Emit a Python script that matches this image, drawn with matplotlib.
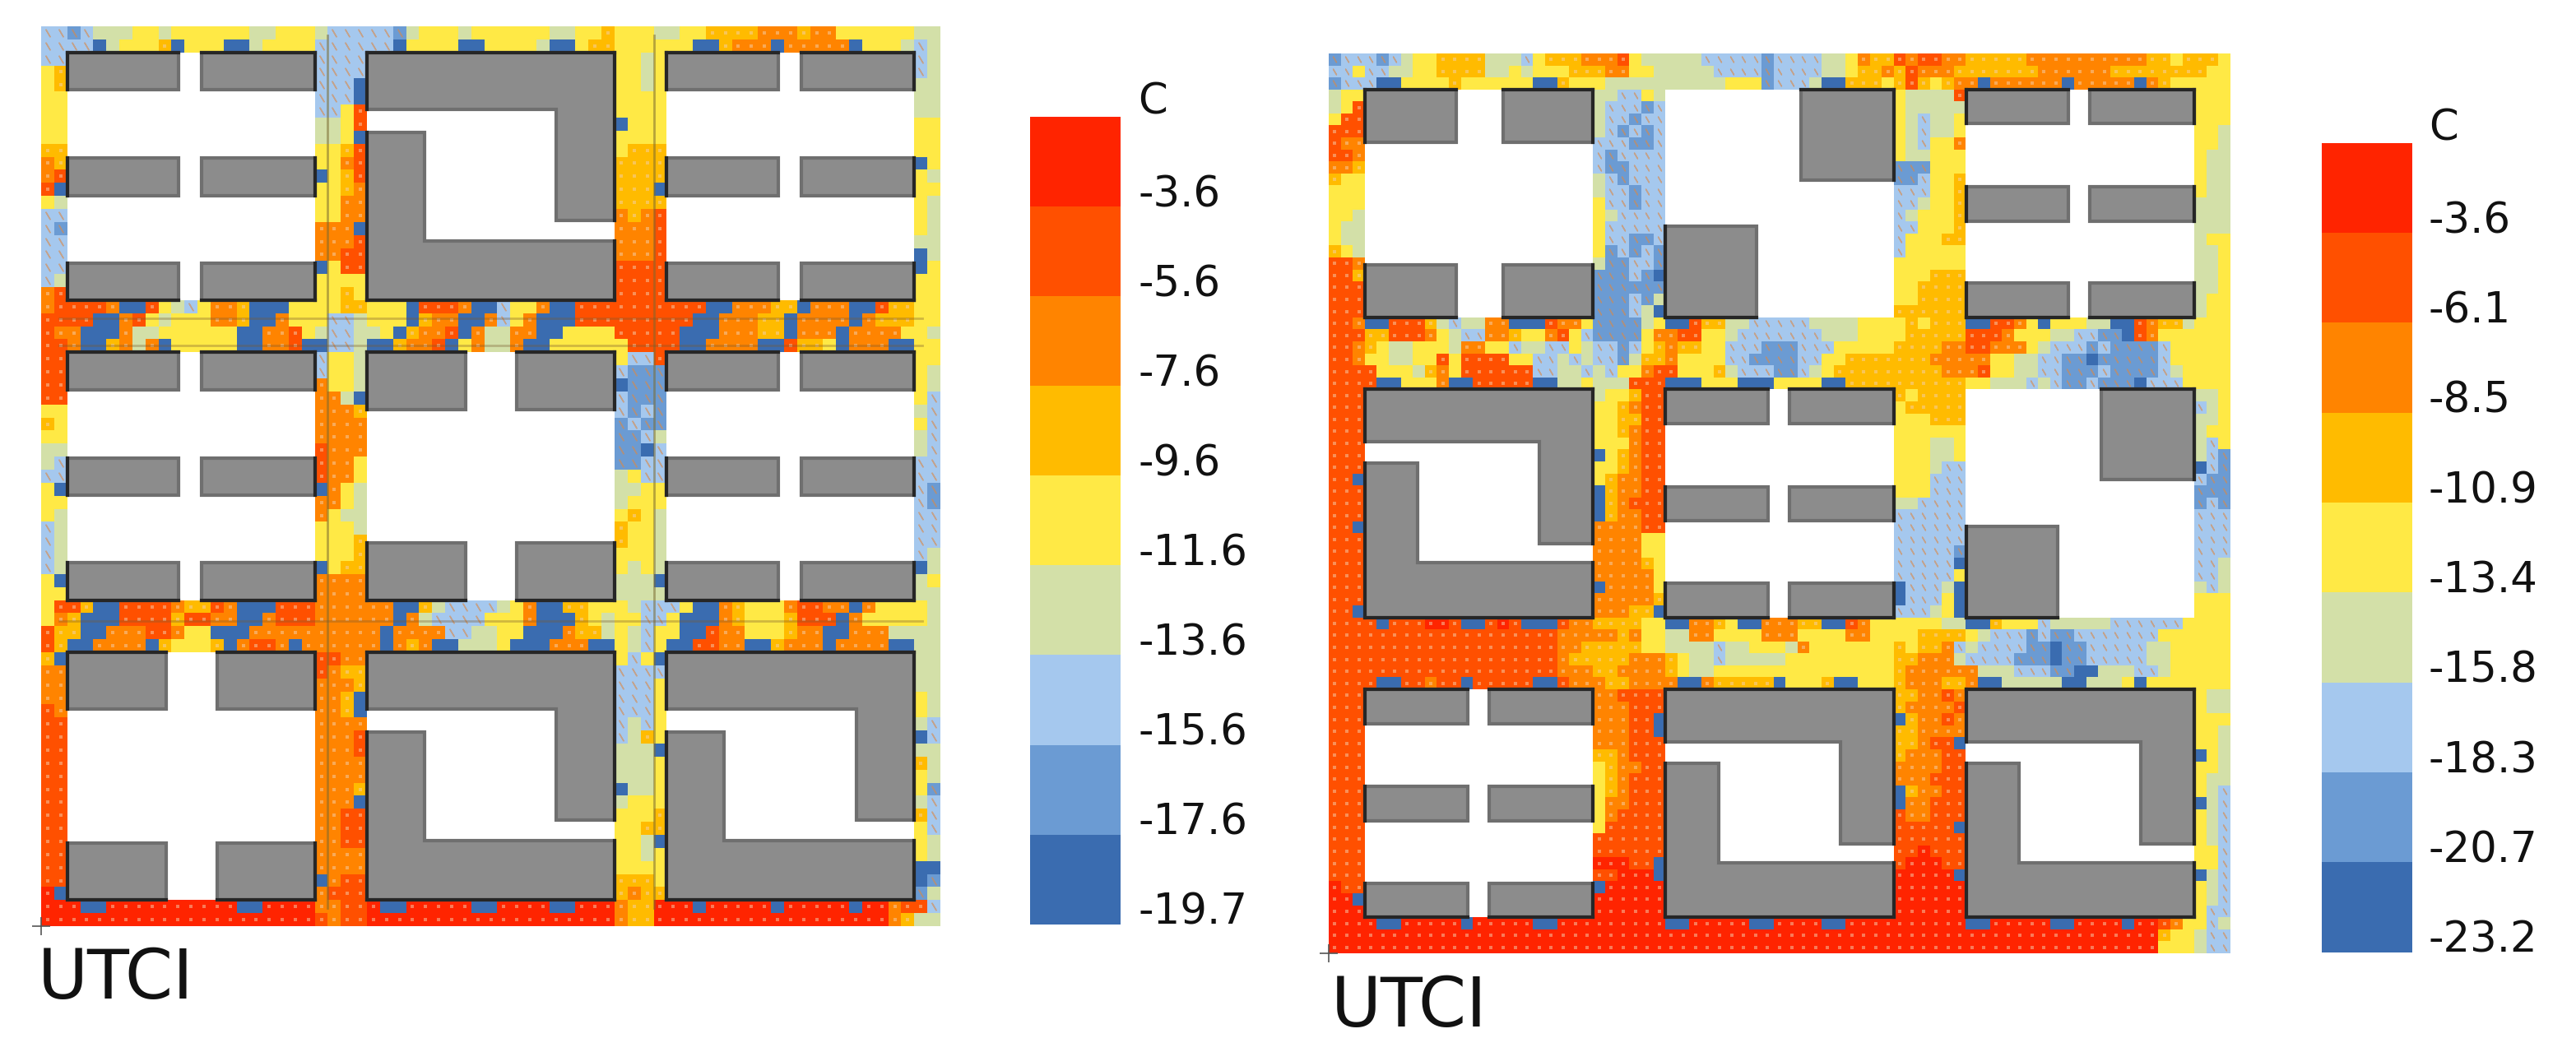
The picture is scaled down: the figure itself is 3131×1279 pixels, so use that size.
#! UTCI maps of two block layouts with stepped legends.

import numpy as np
import matplotlib
matplotlib.use('Agg')
import matplotlib.pyplot as plt
from matplotlib.colors import ListedColormap, BoundaryNorm
from matplotlib.patches import Polygon

W, H = 3131, 1279

band_colors = ['#3A6CB0', '#6B9BD3', '#A5C8EE', '#D3E0A8', '#FFE945',
               '#FFBB00', '#FF8400', '#FF5000', '#FF2400']
labels_a = ['-19.7', '-17.6', '-15.6', '-13.6', '-11.6', '-9.6', '-7.6', '-5.6', '-3.6']
labels_b = ['-23.2', '-20.7', '-18.3', '-15.8', '-13.4', '-10.9', '-8.5', '-6.1', '-3.6']

# Class of each cell, 0 = coldest band, 8 = warmest band.
# Left map: streets running across the whole map.
a_top = [
    "221233344344444433444 322222 13444344444433445 4443344 555566656644444433",
    "222203444504440034444 222222 04444004444300455 4444440 056660666660444323",
]
a_street1 = [
    "677776007432466500044 445544 40777600244600777 7777777 006665506660075544",
    "777700674344466500644 422344 40566006246000777 7777770 066655066660655544",
    "766000633444444006674 322334 05667063366004444 7777700 066655066606666443",
    "776005636044444006670 022300 56670463360044444 4777700 666600755406660044",
]
a_street2 = [
    "477500777765576000777 666666 00532222346005544 4322240 065444677660644443",
    "465000777757766006777 666666 06322224446000543 4422400 065444577706444443",
    "755006667764400066666 666660 66662233440006553 4324400 766444566006663333",
    "750066660544450677606 666660 65600333400066600 4324007 766005666066660033",
]
a_bottom = [
    "888008888888888008888 667780 08888800888800888 6558880 888880888880886772",
    "888888888888888888888 767788 88888888888888888 6558888 888888888888886533",
]
# Left map: margins and side streets beside each row of blocks.
a_side1 = [
    "22 2222 4434 23", "45 2222 4434 23", "45 2220 4434 33", "44 2220 4444 33",
    "44 2247 4444 33", "44 3347 0444 44", "44 3340 4444 44", "55 4457 4555 44",
    "65 4467 5555 04", "67 0457 5555 43", "70 4456 5550 44", "43 4466 5555 43",
    "22 4466 6567 43", "21 6660 6667 43", "22 6667 6667 33", "22 6677 6667 03",
    "22 0477 7777 04", "23 4444 7777 44", "67 4454 7777 44",
]
a_side2 = [
    "77 2443 4227 44", "77 2443 2111 43", "77 6443 0111 43", "77 6630 2111 42",
    "44 6665 2121 32", "54 6666 1211 42", "44 6666 1123 32", "33 7666 1102 32",
    "32 7664 1122 22", "22 7664 3422 22", "40 0643 3344 21", "44 6643 3444 21",
    "43 6433 4543 22", "23 4443 5443 22", "23 4445 5443 22", "23 4445 4443 23",
    "23 0455 4343 03", "40 6666 3330 34", "44 6666 3333 33",
]
a_side3 = [
    "50 7766 4240 33", "66 7655 2222 33", "66 6665 2224 33", "66 6650 2224 43",
    "76 6650 2224 43", "77 6666 2324 32", "77 6667 2354 02", "77 6667 3330 33",
    "77 6666 3334 53", "77 6666 3334 43", "77 6665 0334 41", "77 6660 3444 32",
    "77 6677 4445 52", "77 6677 4455 42", "77 6677 4430 43", "77 6666 4434 43",
    "77 6666 4444 00", "77 0677 5554 01", "80 6777 5655 13",
]

# Right map, same arrangement on a finer grid.
b_top = [
    "1222123 44 5555 3332 4555 6667 43 333322222 1222 2334 655 767766 55555666 666666655 45554",
    "2242233 44 5555 3343 4445 5566 44 333332222 1222 2334 556 576665 55555566 666655555 55544",
    "122 2004 444544 4444 00 54443333 333333444 1 2223 00 5554 575456 6 0 666666 0 66666 0 65 44444",
]
b_street1 = [
    "776 00 777 5 3233 66 000 76 6 4 1111 34 00 7 55 33222223333 4444 54555 00 776 4 0 4 4433 00 76 55 3 444",
    "777 55 777 6 4322 665 44 67 4 21 111 46 677 44 32222222333 444455555 777 6 4 4433 22 110 7 6 444444",
    "77654 3344 43 6 644 23322 43 2212 456 55 44 222111222 44444555566 77666 4 322 212111 1 2 44444",
    "7764 43344 74 777 744 223 23 2213 556 4444 22111122 445555555666 66 443 322 11011111 2 44444",
    "7777 44435 6 4 777777 223 32 32 44 677 4445 32221123 455555555566 67 443 322 1112111 1 23 4444",
    "7777 00 4446 00 77777 00 334 333 777 000 444 000 4444 00 5555555555 443332 32112111 0 222 4444",
]
b_street2 = [
    "7777 0 777887 00 787 000 7665555 44 00 6654 00 66655 00 76 44444433 00 5444 233333222222 4444",
    "7777777777777777777 6666656 4433 66 4444 666 4444 66 444455 55 432 2212 112222 222 444444",
    "7777777777777777777 6655555 44333 32334443 6 44444445 4556 232222 11011 2222233 44444",
    "7777777777777777777 655555666 5433233333 444444444 55666 32222 111011 2222233 44444",
    "7777777777777777777 666556666 5433444444 444444444 5666666 3332221 100 33322344 444",
    "7777 00 77677 0 77777 00 7666556666 00 655555 0 4445 00 444 5666556 00 33333 00 3334 0 4444444",
]
b_bottom = [
    "8888 00 88888 0 88888 00 888888888 00 88888 00 8888 00 8888888888 00 88888 00 8888 0 88 764423",
    "888888888888888888888888888888888888888888888888888888888888888888888 544322",
    "888888888888888888888888888888888888888888888888888888888888888888888 444322",
]
b_side1 = [
    "344 332243 433337 444", "347 322212 433333 444", "477 322122 432334 444",
    "777 321212 432334 443", "766 222112 432446 443", "776 212222 433444 433",
    "665 211222 111444 433", "544 321222 112445 433", "444 322122 222445 433",
    "444 422122 223445 333", "443 432222 234445 333", "433 422222 224445 333",
    "433 422112 244455 344", "543 412121 244444 334", "776 311221 444444 334",
    "775 111210 444555 334", "777 111111 445555 334", "777 111213 445555 344",
    "777 111230 555555 344",
]
b_side2 = [
    "777 344577 545555 334", "777 445677 455555 234", "777 445577 444555 334",
    "777 445677 444444 344", "777 444677 444334 324", "777 045677 444334 321",
    "777 445677 444322 021", "770 456677 444222 211", "777 056677 444222 111",
    "777 056777 332222 121", "777 056677 222222 222", "770 666677 222222 222",
    "777 666644 222222 222", "777 666644 222221 222", "777 666654 222220 223",
    "777 666664 222224 223", "777 066664 022230 323", "777 666665 022240 444",
    "770 666550 222340 444",
]
b_side3 = [
    "777 667777 556676 433", "777 666777 566667 433", "777 666770 056676 444",
    "777 666770 556666 443", "777 666777 556770 443", "777 556777 566677 043",
    "777 456677 666677 443", "777 456777 666777 433", "777 456777 056677 432",
    "777 466777 066777 032", "777 467777 766777 432", "777 477777 777770 432",
    "777 777777 777777 432", "777 777777 778777 442", "777 888770 788877 442",
    "777 778880 888880 032", "877 088888 888888 432", "880 888888 888888 432",
    "888 888888 888888 422",
]

# Building footprints as fractions of one block.
bars = [[(0, 0), (.45, 0), (.45, .15), (0, .15)], [(.543, 0), (1, 0), (1, .15), (.543, .15)],
        [(0, .427), (.45, .427), (.45, .577), (0, .577)], [(.543, .427), (1, .427), (1, .577), (.543, .577)],
        [(0, .85), (.45, .85), (.45, 1), (0, 1)], [(.543, .85), (1, .85), (1, 1), (.543, 1)]]
cross = [[(0, 0), (.4, 0), (.4, .23), (0, .23)], [(.605, 0), (1, 0), (1, .23), (.605, .23)],
         [(0, .77), (.4, .77), (.4, 1), (0, 1)], [(.605, .77), (1, .77), (1, 1), (.605, 1)]]
courtyard = [[(0, 0), (1, 0), (1, .677), (.765, .677), (.765, .23), (0, .23)],
             [(0, .323), (.232, .323), (.232, .76), (1, .76), (1, 1), (0, 1)]]
squares = [[(.592, 0), (1, 0), (1, .397), (.592, .397)], [(0, .6), (.4, .6), (.4, 1), (0, 1)]]

a_layout = [[bars, courtyard, bars], [bars, cross, bars], [cross, courtyard, courtyard]]
b_layout = [[cross, squares, bars], [courtyard, bars, squares], [bars, courtyard, courtyard]]


def clean(row, n):
    row = row.replace(' ', '')
    return row[:n].ljust(n, row[-1])


# Stitch the strips into a full grid, blocks left empty.
def build_grid(top, street1, street2, bottom, sides, margin, street):
    n = 2 * margin + 3 * 19 + 2 * street
    rows = []
    m = 2 * margin + 2 * street
    strips = [top, sides[0], street1, sides[1], street2, sides[2], bottom]
    for i, strip in enumerate(strips):
        for row in strip:
            if i % 2 == 0:
                rows.append([int(c) for c in clean(row, n)])
            else:
                s = [int(c) for c in clean(row, m)]
                nan = [np.nan] * 19
                rows.append(s[:margin] + nan + s[margin:margin + street] + nan
                            + s[margin + street:margin + 2 * street] + nan + s[-margin:])
    return np.array(rows, dtype=float)


def px_axes(x0, y0, x1, y1):
    return fig.add_axes([x0 / W, 1 - y1 / H, (x1 - x0) / W, (y1 - y0) / H])


def draw_map(box, grid, layout, margin, street, mark_size):
    ax = px_axes(*box)
    n = grid.shape[0]
    ax.imshow(grid, cmap=cmap, norm=norm, extent=(0, n, n, 0), aspect='auto', interpolation='nearest')

    # Wind marks on the cells.
    ys, xs = np.nonzero(grid >= 5)
    ax.scatter(xs + .5, ys + .5, s=mark_size, marker='s', color='#F2D0B0', alpha=.5, linewidths=0)
    ys, xs = np.nonzero((grid >= 1) & (grid <= 2))
    ax.scatter(xs + .5, ys + .5, s=mark_size * 5, marker=(2, 2, 30), color='#D98A4A', alpha=.6, linewidths=1.1)

    for r, line in enumerate(layout):
        for c, block in enumerate(line):
            bx = margin + c * (19 + street)
            by = margin + r * (19 + street)
            for shape in block:
                pts = [(bx + 19 * px, by + 19 * py) for px, py in shape]
                ax.add_patch(Polygon(pts, closed=True, facecolor='#8C8C8C', edgecolor='#6F6F6F', linewidth=3, zorder=3))
                # Edges on the block outline are darker.
                for (p, q), (u, v) in zip(zip(shape, shape[1:] + shape[:1]), zip(pts, pts[1:] + pts[:1])):
                    on_edge = (p[0] == q[0] and p[0] in (0, 1)) or (p[1] == q[1] and p[1] in (0, 1))
                    if on_edge:
                        ax.plot([u[0], v[0]], [u[1], v[1]], color='#262626', lw=3, zorder=4, solid_capstyle='projecting')
    ax.set_xlim(0, n)
    ax.set_ylim(n, 0)
    ax.set_axis_off()
    return ax


def draw_legend(box, labels, text_x):
    ax = px_axes(*box)
    ax.imshow(np.arange(9)[::-1].reshape(-1, 1), cmap=cmap, norm=norm, extent=(0, 1, 0, 9), aspect='auto')
    ax.set_xlim(0, 1)
    ax.set_ylim(0, 9)
    ax.set_axis_off()
    tx = (text_x - box[0]) / (box[2] - box[0])
    for i, lab in enumerate(labels):
        ax.text(tx, i, lab, fontsize=37, va='baseline', ha='left', color='#111111', clip_on=False)
    ax.text(tx, 9.03, 'C', fontsize=37, va='baseline', ha='left', color='#111111', clip_on=False)


cmap = ListedColormap(band_colors)
cmap.set_bad('white')
norm = BoundaryNorm(np.arange(-.5, 9.5), 9)

fig = plt.figure(figsize=(W / 100, H / 100), dpi=100, facecolor='white')

grid_a = build_grid(a_top, a_street1, a_street2, a_bottom, [a_side1, a_side2, a_side3], 2, 4)
grid_b = build_grid(b_top, b_street1, b_street2, b_bottom, [b_side1, b_side2, b_side3], 3, 6)

ax_a = draw_map((50, 32, 1143, 1126), grid_a, a_layout, 2, 4, 10)
ax_b = draw_map((1615, 65, 2711, 1159), grid_b, b_layout, 3, 6, 6)

# Faint site lines on the left map.
for pos in (22.0, 47.0):
    ax_a.axvline(pos, ymin=.02, ymax=.99, color='#7A6A30', alpha=.55, lw=2, zorder=2)
for pos in (22.4, 24.5, 45.6):
    ax_a.axhline(pos, xmin=.02, xmax=.98, color='#7A5A30', alpha=.35, lw=2, zorder=2)

draw_legend((1252, 142, 1362, 1124), labels_a, 1383)
draw_legend((2822, 174, 2932, 1158), labels_b, 2952)

fig.text(46 / W, 1 - 1214 / H, 'UTCI', fontsize=60, color='#111111', va='baseline')
fig.text(1618 / W, 1 - 1248 / H, 'UTCI', fontsize=60, color='#111111', va='baseline')

# Small origin crosses under each map.
for ax in (ax_a, ax_b):
    ax.plot([0], [ax.get_ylim()[0]], marker='+', ms=16, mew=1.2, color='#555555', clip_on=False, zorder=5)

fig.savefig('out.png', dpi=100, facecolor='white')
